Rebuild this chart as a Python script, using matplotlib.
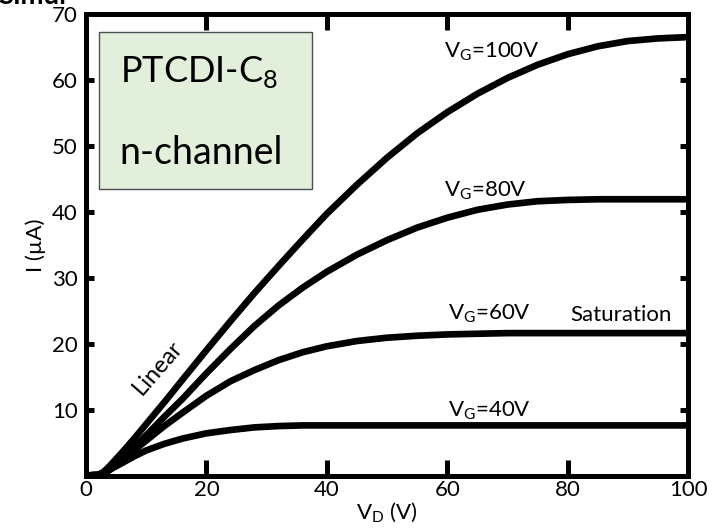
import matplotlib
matplotlib.use("Agg")
import matplotlib.pyplot as plt
from matplotlib.patches import Rectangle

plt.rcParams['font.family'] = ['Lato', 'DejaVu Sans']
plt.rcParams['mathtext.fontset'] = 'custom'
plt.rcParams['mathtext.rm'] = 'Lato'

# Drain voltage samples (V)
vd = [0, 2, 3, 4, 6, 8, 10, 13, 16, 20, 24, 28, 32, 36, 40, 45, 50, 55,
      60, 65, 70, 75, 80, 85, 90, 95, 100]

# Drain current (uA) for each gate voltage
i_vg100 = [0, 0.1, 0.6, 1.5, 3.5, 5.6, 7.8, 11.1, 14.5, 19.0, 23.4, 27.7,
           31.8, 35.8, 39.7, 44.1, 48.2, 51.9, 55.1, 57.9, 60.3, 62.3, 63.9,
           65.1, 65.9, 66.3, 66.5]
i_vg80 = [0, 0.1, 0.3, 1.0, 2.6, 4.3, 6.1, 8.9, 11.6, 15.5, 19.2, 22.7,
          25.8, 28.5, 30.9, 33.5, 35.7, 37.6, 39.1, 40.3, 41.1, 41.6, 41.8,
          41.9, 41.9, 41.9, 41.9]
i_vg60 = [0, 0.1, 0.3, 0.9, 2.3, 3.8, 5.3, 7.5, 9.5, 12.1, 14.3, 16.0,
          17.5, 18.7, 19.6, 20.4, 20.9, 21.2, 21.4, 21.5, 21.6, 21.6, 21.6,
          21.6, 21.6, 21.6, 21.6]
i_vg40 = [0, 0.1, 0.3, 0.9, 1.9, 2.9, 3.8, 4.8, 5.6, 6.4, 6.9, 7.3, 7.5,
          7.6, 7.6, 7.6, 7.6, 7.6, 7.6, 7.6, 7.6, 7.6, 7.6, 7.6, 7.6, 7.6, 7.6]

curve_labels = ['V$_\\mathregular{G}$=100V', 'V$_\\mathregular{G}$=80V',
                'V$_\\mathregular{G}$=60V', 'V$_\\mathregular{G}$=40V']
label_pos = [(59.5, 64.3), (59.5, 43.2), (60.2, 24.6), (60.2, 9.9)]

x_ticks = [0, 20, 40, 60, 80, 100]
y_ticks = [10, 20, 30, 40, 50, 60, 70]

fig = plt.figure(figsize=(7.25, 5.31), dpi=100)
ax = fig.add_axes([0.1186, 0.1045, 0.8304, 0.8691])

for ys in (i_vg100, i_vg80, i_vg60, i_vg40):
    ax.plot(vd, ys, color='black', lw=4.8, solid_capstyle='butt',
            solid_joinstyle='round', zorder=3)

for txt, (x, y) in zip(curve_labels, label_pos):
    ax.text(x, y, txt, fontsize=16, ha='left', va='center')

ax.text(88.9, 24.3, 'Saturation', fontsize=16, ha='center', va='center')
ax.text(12.0, 16.3, 'Linear', fontsize=17, ha='center', va='center',
        rotation=49, rotation_mode='anchor')

# Material / channel-type box
ax.add_patch(Rectangle((2.2, 43.5), 35.3, 23.7, facecolor='#e2efda',
                       edgecolor='#4d4d4d', lw=1.0, zorder=4))
ax.text(5.6, 61.2, 'PTCDI-C$_\\mathregular{8}$', fontsize=26, ha='left',
        va='center', zorder=5)
ax.text(5.6, 48.9, 'n-channel', fontsize=27, ha='left', va='center', zorder=5)

ax.set_xlim(0, 100)
ax.set_ylim(0, 70)
ax.set_xticks(x_ticks)
ax.set_yticks(y_ticks)
ax.tick_params(axis='both', direction='in', top=True, right=True,
               labelsize=16, width=3.6, color='black')
ax.tick_params(axis='x', length=11.5, pad=3)
ax.tick_params(axis='y', length=5.5, pad=6)
for sp in ax.spines.values():
    sp.set_linewidth(3.6)

ax.set_xlabel('V$_\\mathregular{D}$ (V)', fontsize=16, labelpad=1)
ax.set_ylabel('I (µA)', fontsize=16, labelpad=4)

# Heading running off the top edge
fig.text(-0.002, 1 - 4 / 531, 'Simul', fontsize=20, fontweight='bold',
         ha='left', va='baseline')

fig.savefig('out.png', dpi=100)
